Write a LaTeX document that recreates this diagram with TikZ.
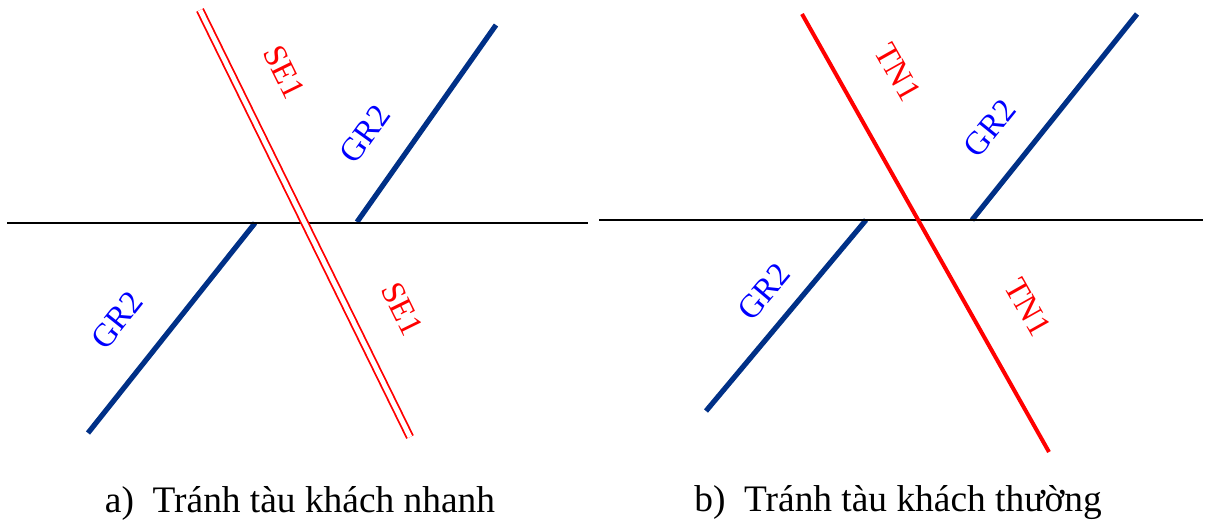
\documentclass[tikz,border=0pt]{standalone}
\usepackage{fontspec}
\setmainfont{Liberation Serif}
\definecolor{trackblue}{RGB}{0,48,135}
\tikzset{
  mainline/.style={black, line width=1.3pt},
  siding/.style={trackblue, line width=2.6pt},
  fastline/.style={red, line width=0.9pt, double=white, double distance=2.4pt},
  slowline/.style={red, line width=2pt},
  redlabel/.style={red, inner sep=1pt, font=\fontsize{16.5}{19}\selectfont},
  bluelabel/.style={blue, inner sep=1pt, font=\fontsize{16.5}{19}\selectfont},
  caption/.style={font=\fontsize{18.7}{22}\selectfont}
}
\begin{document}
\begin{tikzpicture}[x=0.5pt, y=-0.5pt]
  \useasboundingbox (0,0) rectangle (1208,527);

  % a) left panel
  \coordinate (aW) at (7,223);
  \coordinate (aE) at (588,223);
  \coordinate (aRtop) at (200,10);
  \coordinate (aRbot) at (410,437);
  \coordinate (aBup) at (496,25);
  \coordinate (aBupj) at (357,222);
  \coordinate (aBlow) at (88,433);
  \coordinate (aBlowj) at (255,223);

  \draw[siding] (aBupj) -- (aBup);
  \draw[siding] (aBlowj) -- (aBlow);
  \draw[mainline] (aW) -- (aE);
  \draw[fastline] (aRtop) -- (aRbot);

  \node[redlabel, rotate=-63.8] (aSEtop) at (284,72) {SE1};
  \node[redlabel, rotate=-63.8] (aSEbot) at (402,309) {SE1};
  \node[bluelabel, rotate=54.5] (aGRtop) at (365,134) {GR2};
  \node[bluelabel, rotate=51.5] (aGRbot) at (117,320) {GR2};

  % b) right panel
  \coordinate (bW) at (599,220);
  \coordinate (bE) at (1203,220);
  \coordinate (bRtop) at (802,14);
  \coordinate (bRbot) at (1049,452);
  \coordinate (bBup) at (1137,14);
  \coordinate (bBupj) at (972,220);
  \coordinate (bBlow) at (706,411);
  \coordinate (bBlowj) at (866,220);

  \draw[siding] (bBupj) -- (bBup);
  \draw[siding] (bBlowj) -- (bBlow);
  \draw[mainline] (bW) -- (bE);
  \draw[slowline] (bRtop) -- (bRbot);

  \node[redlabel, rotate=-60.6] (bTNtop) at (898,72) {TN1};
  \node[redlabel, rotate=-60.6] (bTNbot) at (1028,307) {TN1};
  \node[bluelabel, rotate=51] (bGRtop) at (990,128) {GR2};
  \node[bluelabel, rotate=50] (bGRbot) at (764,292) {GR2};

  % captions
  \node[caption] (capA) at (300,503) {a)\ \ Tránh tàu khách nhanh};
  \node[caption] (capB) at (898,503) {b)\ \ Tránh tàu khách thường};
\end{tikzpicture}
\end{document}
